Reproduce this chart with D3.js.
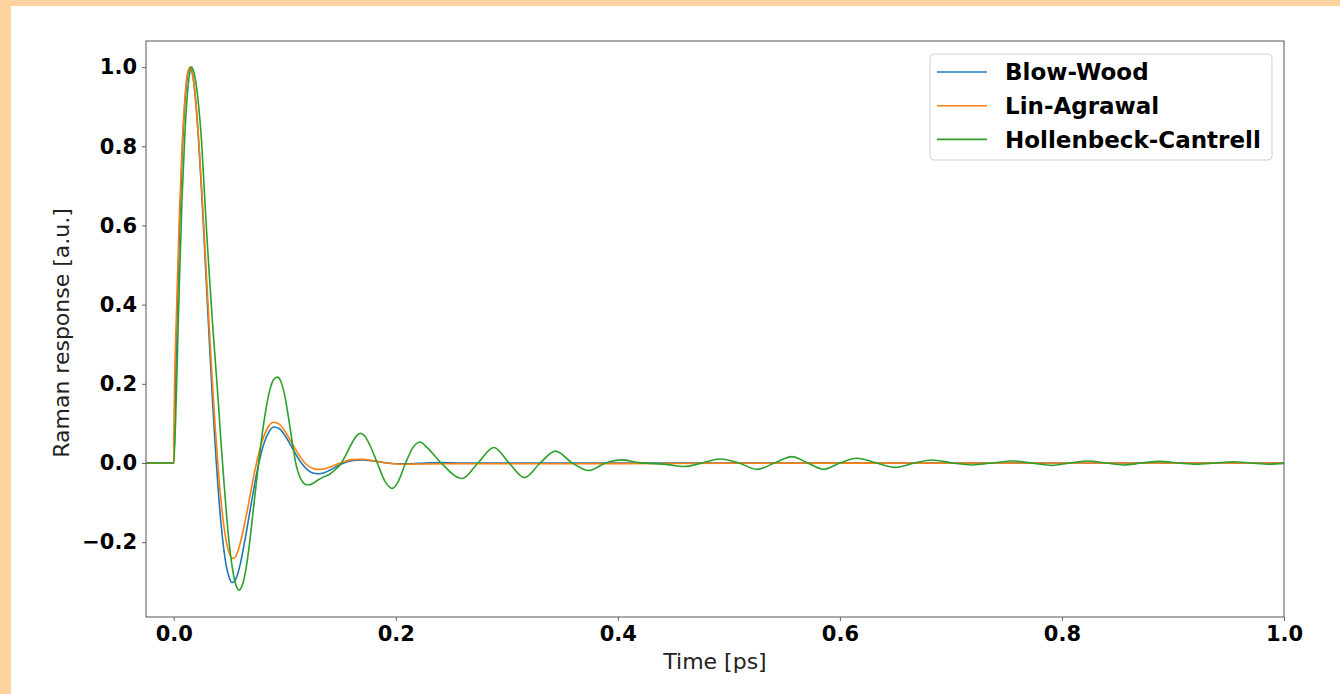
<!DOCTYPE html>
<html>
<head>
<meta charset="utf-8">
<script src="https://cdn.jsdelivr.net/npm/d3@7"></script>
<style>
  html, body { margin: 0; padding: 0; background: #FED3A0; overflow: hidden; }
  svg { display: block; }
</style>
</head>
<body>
<svg id="chart" width="1340" height="694"></svg>
<script>
// ---- Data (time in ps, normalized Raman response) ----
const seriesNames = ["Blow-Wood", "Lin-Agrawal", "Hollenbeck-Cantrell"];
const seriesColors = ["#1f77b4", "#ff7f0e", "#2ca02c"];

const blowWoodT = [-0.025, 0, 0.0025, 0.005, 0.0075, 0.01, 0.0125, 0.015, 0.0175, 0.02, 0.0225, 0.025, 0.0275, 0.03, 0.0325, 0.035, 0.0375, 0.04, 0.0425, 0.045, 0.0475, 0.05, 0.0525, 0.055, 0.0575, 0.06, 0.065, 0.07, 0.075, 0.08, 0.085, 0.09, 0.095, 0.1, 0.105, 0.11, 0.115, 0.12, 0.125, 0.13, 0.135, 0.14, 0.15, 0.16, 0.17, 0.18, 0.19, 0.2, 0.21, 0.22, 0.24, 0.26, 0.3, 0.5, 1.0];
const blowWoodV = [0, 0, 0.319, 0.578, 0.774, 0.907, 0.981, 1.0, 0.972, 0.906, 0.808, 0.689, 0.556, 0.419, 0.283, 0.153, 0.036, -0.066, -0.151, -0.216, -0.263, -0.290, -0.302, -0.298, -0.281, -0.254, -0.181, -0.099, -0.022, 0.038, 0.075, 0.091, 0.087, 0.070, 0.047, 0.022, 0.0, -0.016, -0.025, -0.027, -0.025, -0.019, -0.004, 0.006, 0.008, 0.005, 0.001, -0.002, -0.002, -0.001, 0.001, 0, 0, 0, 0];

const linAgrawalT = [-0.025, 0, 0.0002, 0.0025, 0.005, 0.0075, 0.01, 0.0125, 0.015, 0.0175, 0.02, 0.0225, 0.025, 0.0275, 0.03, 0.0325, 0.035, 0.0375, 0.04, 0.0425, 0.045, 0.0475, 0.05, 0.0525, 0.055, 0.0575, 0.06, 0.065, 0.07, 0.075, 0.08, 0.085, 0.09, 0.095, 0.1, 0.105, 0.11, 0.115, 0.12, 0.125, 0.13, 0.135, 0.14, 0.15, 0.16, 0.17, 0.18, 0.19, 0.2, 0.21, 0.22, 0.25, 0.3, 0.4, 0.5, 0.6, 0.8, 1.0];
const linAgrawalV = [0, 0, 0.093, 0.385, 0.622, 0.800, 0.920, 0.986, 1.0, 0.971, 0.907, 0.814, 0.701, 0.575, 0.446, 0.317, 0.194, 0.084, -0.013, -0.094, -0.156, -0.201, -0.228, -0.241, -0.239, -0.225, -0.201, -0.137, -0.063, 0.006, 0.058, 0.091, 0.103, 0.098, 0.081, 0.057, 0.033, 0.011, -0.005, -0.013, -0.016, -0.015, -0.011, 0.0, 0.0085, 0.0094, 0.0055, 0.0006, -0.0024, -0.003, -0.0026, -0.002, -0.002, -0.0016, -0.0008, -0.0004, -0.0001, 0];

const hollenbeckT = [-0.025, 0, 0.0025, 0.005, 0.0075, 0.01, 0.0125, 0.015, 0.0162, 0.0175, 0.02, 0.0225, 0.025, 0.0275, 0.03, 0.0325, 0.035, 0.0375, 0.04, 0.0425, 0.045, 0.0475, 0.05, 0.0525, 0.055, 0.0575, 0.0588, 0.06, 0.0625, 0.065, 0.0675, 0.07, 0.0725, 0.075, 0.0775, 0.08, 0.0825, 0.085, 0.0875, 0.09, 0.0933, 0.095, 0.0975, 0.1, 0.1025, 0.105, 0.1075, 0.11, 0.1125, 0.115, 0.1175, 0.12, 0.1225, 0.125, 0.13, 0.135, 0.14, 0.145, 0.15, 0.155, 0.16, 0.1645, 0.1683, 0.172, 0.177, 0.1833, 0.19, 0.1968, 0.2025, 0.2088, 0.215, 0.2217, 0.2285, 0.2408, 0.2598, 0.274, 0.2883, 0.302, 0.316, 0.33, 0.3438, 0.359, 0.3738, 0.389, 0.4038, 0.418, 0.43, 0.445, 0.4593, 0.476, 0.4923, 0.509, 0.5254, 0.541, 0.5568, 0.571, 0.5854, 0.6, 0.6154, 0.633, 0.65, 0.667, 0.683, 0.701, 0.719, 0.737, 0.756, 0.773, 0.791, 0.807, 0.824, 0.84, 0.855, 0.872, 0.888, 0.905, 0.921, 0.938, 0.954, 0.97, 0.987, 1.0];
const hollenbeckV = [0, 0, 0.19, 0.45, 0.67, 0.83, 0.94, 0.993, 1.0, 0.993, 0.96, 0.90, 0.815, 0.69, 0.565, 0.455, 0.35, 0.255, 0.16, 0.055, -0.04, -0.13, -0.205, -0.26, -0.298, -0.318, -0.321, -0.319, -0.302, -0.268, -0.22, -0.16, -0.097, -0.035, 0.025, 0.08, 0.127, 0.166, 0.194, 0.211, 0.217, 0.214, 0.198, 0.17, 0.13, 0.085, 0.038, -0.002, -0.027, -0.043, -0.052, -0.055, -0.055, -0.052, -0.043, -0.035, -0.029, -0.018, -0.004, 0.02, 0.048, 0.068, 0.075, 0.068, 0.043, 0.0, -0.045, -0.064, -0.045, 0.0, 0.037, 0.053, 0.038, 0.0, -0.039, 0.0, 0.039, 0.0, -0.037, 0.0, 0.030, 0.0, -0.019, 0.0, 0.008, 0.001, -0.001, -0.004, -0.009, 0.0, 0.010, 0.0, -0.016, 0.0, 0.016, 0.0, -0.016, 0.0, 0.012, 0.0, -0.011, 0.0, 0.0076, 0.0, -0.005, 0.0, 0.005, 0.0, -0.006, 0.0, 0.005, 0.0, -0.005, 0.0, 0.004, 0.0, -0.003, 0.0, 0.003, 0.0, -0.003, -0.001];

const xTicks = [0.0, 0.2, 0.4, 0.6, 0.8, 1.0];
const yTicks = [-0.2, 0.0, 0.2, 0.4, 0.6, 0.8, 1.0];
const xDomain = [-0.025, 1.0];
const yDomain = [-0.389, 1.066];
const xLabel = "Time [ps]";
const yLabel = "Raman response [a.u.]";

// ---- Layout ----
const svg = d3.select("#chart");
const plot = { left: 146, top: 41, right: 1284, bottom: 617 };

svg.append("rect").attr("x", 11).attr("y", 6).attr("width", 1340).attr("height", 700).attr("fill", "#ffffff");

const x = d3.scaleLinear().domain(xDomain).range([plot.left, plot.right]);
const y = d3.scaleLinear().domain(yDomain).range([plot.bottom, plot.top]);

svg.append("defs").append("clipPath").attr("id", "clip")
  .append("rect").attr("x", plot.left).attr("y", plot.top)
  .attr("width", plot.right - plot.left).attr("height", plot.bottom - plot.top);

const fmt = d3.format(".1f");
const tickFont = "'DejaVu Sans', sans-serif";

const xAxis = svg.append("g").attr("transform", `translate(0,${plot.bottom})`)
  .call(d3.axisBottom(x).tickValues(xTicks).tickFormat(fmt).tickSize(4).tickPadding(5));
const yAxis = svg.append("g").attr("transform", `translate(${plot.left},0)`)
  .call(d3.axisLeft(y).tickValues(yTicks).tickFormat(fmt).tickSize(4).tickPadding(5));

[xAxis, yAxis].forEach(g => {
  g.select(".domain").remove();
  g.selectAll(".tick line").attr("stroke", "#666").attr("stroke-width", 1);
  g.selectAll(".tick text").attr("fill", "#000").style("font-family", tickFont)
    .style("font-size", "21px").style("font-weight", "bold");
});

// lines
const line = d3.line().x(d => x(d[0])).y(d => y(d[1])).curve(d3.curveMonotoneX);
const seriesT = [blowWoodT, linAgrawalT, hollenbeckT];
const seriesV = [blowWoodV, linAgrawalV, hollenbeckV];
const gLines = svg.append("g").attr("clip-path", "url(#clip)");
seriesNames.forEach((name, i) => {
  const pts = seriesT[i].map((t, j) => [t, seriesV[i][j]]);
  gLines.append("path").datum(pts).attr("d", line)
    .attr("fill", "none").attr("stroke", seriesColors[i]).attr("stroke-width", 1.6)
    .attr("stroke-linejoin", "round");
});

// frame
svg.append("rect").attr("x", plot.left).attr("y", plot.top)
  .attr("width", plot.right - plot.left).attr("height", plot.bottom - plot.top)
  .attr("fill", "none").attr("stroke", "#555").attr("stroke-width", 1);

// axis labels
svg.append("text").attr("x", (plot.left + plot.right) / 2).attr("y", 669)
  .attr("text-anchor", "middle").style("font-family", tickFont).style("font-size", "22px")
  .attr("fill", "#222").text(xLabel);
svg.append("text").attr("transform", `translate(69,${(plot.top + plot.bottom) / 2 + 4}) rotate(-90)`)
  .attr("text-anchor", "middle").style("font-family", tickFont).style("font-size", "22px")
  .attr("fill", "#222").text(yLabel);

// legend
const lg = svg.append("g");
lg.append("rect").attr("x", 930).attr("y", 54).attr("width", 342).attr("height", 106)
  .attr("rx", 4).attr("fill", "#fff").attr("fill-opacity", 0.8)
  .attr("stroke", "#d0d0d0").attr("stroke-width", 1);
seriesNames.forEach((name, i) => {
  const ly = 72 + i * 33.7;
  lg.append("line").attr("x1", 937).attr("x2", 987).attr("y1", ly).attr("y2", ly)
    .attr("stroke", seriesColors[i]).attr("stroke-width", 1.6);
  lg.append("text").attr("x", 1005).attr("y", ly).attr("dy", "0.36em")
    .style("font-family", tickFont).style("font-size", "23px").style("font-weight", "bold")
    .attr("fill", "#000").text(name);
});
</script>
</body>
</html>
